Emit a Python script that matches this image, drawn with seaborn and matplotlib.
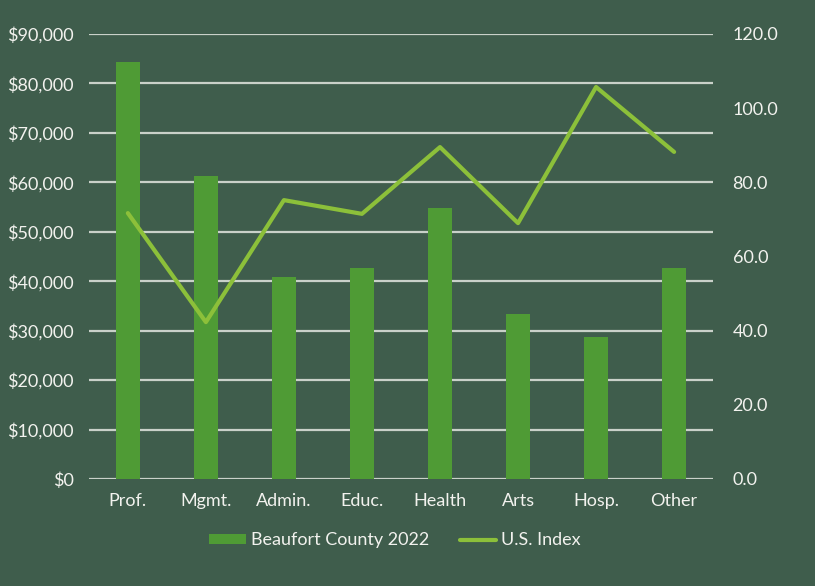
import pandas as pd
import matplotlib.pyplot as plt
import seaborn as sns
from matplotlib.ticker import FuncFormatter, MultipleLocator
from matplotlib.patches import Patch
from matplotlib.lines import Line2D

# Datos
categorias = ['Prof.', 'Mgmt.', 'Admin.', 'Educ.', 'Health', 'Arts', 'Hosp.', 'Other']
salario_beaufort = [84300, 61300, 40900, 42700, 54800, 33400, 28700, 42700]
indice_us = [71.7, 42.3, 75.2, 71.5, 89.5, 69.0, 105.7, 88.2]

fondo = '#3f5d4c'
verde_barra = '#4f9b35'
verde_linea = '#8cc03a'
texto = '#f2f2ee'
rejilla = '#c9d1c9'

df = pd.DataFrame({'categoria': categorias, 'salario': salario_beaufort, 'indice': indice_us})

sns.set_style('white')
plt.rcParams['font.family'] = ['Lato', 'DejaVu Sans']

fig = plt.figure(figsize=(8.15, 5.86), dpi=100, facecolor=fondo)
ax = fig.add_axes([0.109, 0.1826, 0.766, 0.7594])
ax.set_facecolor(fondo)

sns.barplot(data=df, x='categoria', y='salario', color=verde_barra, width=0.31,
            saturation=1, linewidth=0, edgecolor='none', ax=ax, zorder=2)
ax.set_ylim(0, 90000)
ax.set_xlim(-0.5, 7.5)
ax.yaxis.set_major_locator(MultipleLocator(10000))
ax.yaxis.set_major_formatter(FuncFormatter(lambda v, p: f'${v:,.0f}'))
ax.grid(axis='y', color=rejilla, linewidth=1.6, zorder=0)
ax.set_axisbelow(True)
ax.set_xlabel('')
ax.set_ylabel('')
ax.tick_params(axis='both', length=0, labelsize=13, colors=texto)
ax.tick_params(axis='y', pad=11)
ax.tick_params(axis='x', pad=10)
for s in ax.spines.values():
    s.set_visible(False)

ax2 = ax.twinx()
sns.lineplot(x=list(range(len(categorias))), y=df['indice'], color=verde_linea,
             linewidth=3.0, ax=ax2)
ax2.set_ylim(0, 120)
ax2.yaxis.set_major_locator(MultipleLocator(20))
ax2.yaxis.set_major_formatter(FuncFormatter(lambda v, p: f'{v:.1f}'))
ax2.set_ylabel('')
ax2.tick_params(axis='y', length=0, labelsize=13, colors=texto, pad=14)
for s in ax2.spines.values():
    s.set_visible(False)

handles = [Patch(facecolor=verde_barra, edgecolor='none'),
           Line2D([0], [0], color=verde_linea, linewidth=3.0)]
fig.legend(handles, ['Beaufort County 2022', 'U.S. Index'], loc='center',
           bbox_to_anchor=(0.485, 0.078), ncol=2, frameon=False, fontsize=13,
           labelcolor=texto, handlelength=2.0, handleheight=0.5,
           handletextpad=0.3, columnspacing=1.7)

fig.savefig('out.png', dpi=100, facecolor=fondo)
